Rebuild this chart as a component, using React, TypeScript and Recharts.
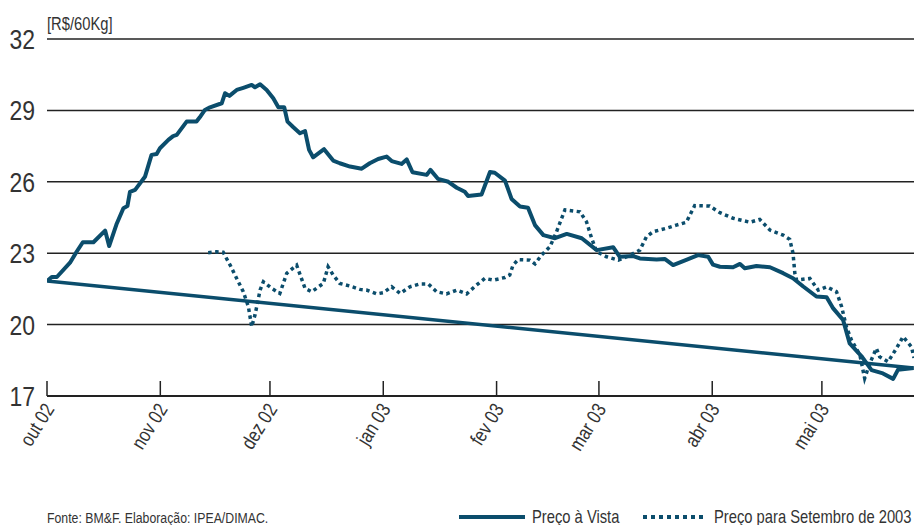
import React from 'react';
import { LineChart, Line, XAxis, YAxis, CartesianGrid } from 'recharts';

// x = dias desde 1 out 2002
const spotDays = [
  0, 1.3, 2.7, 6.3, 8.1, 9.8, 12.7, 15.9, 17.0, 19.1, 20.9, 22.0, 22.7, 24.1, 26.8, 28.6, 30.0, 30.9,
  33.2, 34.5, 35.5, 38.2, 40.9, 41.8, 43.2, 44.6, 47.8, 48.7, 49.9, 51.9, 53.7, 56.0, 56.9, 58.3,
  60.1, 61.9, 63.3, 64.9, 65.8, 67.4, 69.2, 70.6, 71.7, 72.8, 75.8, 78.3, 80.1, 82.9, 86.1, 88.3,
  90.6, 92.9, 94.3, 97.0, 98.4, 100.0, 103.9, 104.9, 107.0, 109.8, 112.1, 114.3, 115.2, 118.9,
  121.2, 122.5, 125.3, 127.1, 129.4, 131.6, 133.5, 135.8, 139.0, 142.2, 146.3, 150.4, 154.9,
  156.7, 160.4, 162.2, 166.8, 169.0, 171.3, 174.9, 178.1, 180.9, 182.2, 184.1, 187.7, 189.6,
  190.9, 194.1, 197.8, 201.4, 204.1, 206.9, 210.5, 213.3, 215.1, 217.8, 219.6, 222.8, 224.6,
  225.6, 228.7, 231.5, 232.8, 237.1,
];
const spotValues = [
  21.83, 22.0, 22.0, 22.6, 23.06, 23.46, 23.46, 23.95, 23.3, 24.25, 24.89, 24.98, 25.58, 25.66, 26.21, 27.13, 27.17, 27.41,
  27.76, 27.92, 27.97, 28.53, 28.53, 28.71, 29.02, 29.13, 29.3, 29.72, 29.61, 29.86, 29.95, 30.07, 29.97, 30.1,
  29.86, 29.51, 29.13, 29.13, 28.53, 28.29, 28.04, 28.13, 27.34, 27.03, 27.37, 26.89, 26.78, 26.64, 26.55, 26.78,
  26.96, 27.06, 26.87, 26.75, 26.94, 26.4, 26.29, 26.5, 26.12, 26.0, 25.75, 25.58, 25.4, 25.47,
  26.41, 26.38, 26.05, 25.28, 24.96, 24.91, 24.18, 23.76, 23.63, 23.81, 23.63, 23.13, 23.25,
  22.85, 22.88, 22.78, 22.74, 22.76, 22.5, 22.72, 22.92, 22.85, 22.52, 22.43, 22.41, 22.55,
  22.37, 22.46, 22.41, 22.16, 21.95, 21.6, 21.18, 21.15, 20.68, 20.19, 19.21, 18.68, 18.3,
  18.09, 17.95, 17.72, 18.1, 18.18,
];

const futDays = [
  44.1, 46.4, 48.2, 50.1, 51.9, 53.7, 55.1, 56.0, 56.9, 58.3, 59.2, 61.5, 63.7, 65.6, 68.3, 70.6,
  72.4, 75.6, 76.9, 78.3, 80.1, 82.9, 85.6, 87.4, 90.2, 92.0, 94.3, 96.6, 99.3, 102.0, 104.3,
  106.6, 109.3, 112.1, 114.8, 117.5, 119.8, 122.1, 125.3, 126.6, 127.5, 128.9, 132.1, 133.5,
  135.3, 137.6, 139.4, 141.7, 145.8, 147.6, 149.0, 150.4, 153.1, 156.3, 158.6, 162.2, 164.0,
  165.8, 169.5, 172.2, 174.9, 177.2, 181.3, 184.1, 187.7, 192.3, 195.0, 197.8, 201.4, 203.2,
  204.1, 204.6, 205.1, 208.7, 211.0, 213.3, 216.0, 217.4, 218.7, 220.1, 222.4, 223.7, 225.1,
  226.9, 227.8, 230.1, 232.4, 234.2, 236.5, 237.2,
];
const futValues = [
  23.02, 23.06, 23.04, 22.5, 21.94, 21.38, 20.75, 19.91, 20.4, 21.45, 21.8, 21.52, 21.31, 22.16, 22.5, 21.52,
  21.38, 21.73, 22.43, 22.08, 21.73, 21.62, 21.48, 21.45, 21.29, 21.34, 21.59, 21.31, 21.59, 21.71, 21.71,
  21.38, 21.29, 21.45, 21.29, 21.66, 21.94, 21.87, 21.98, 22.08, 22.5, 22.73, 22.71, 22.55,
  22.92, 23.27, 23.9, 24.82, 24.74, 24.32, 23.63, 23.06, 22.85, 22.71, 22.85, 23.13, 23.69,
  23.9, 24.05, 24.18, 24.3, 25.0, 24.98, 24.7, 24.47, 24.3, 24.42, 23.97, 23.76, 23.58,
  23.0, 22.16, 21.87, 21.94, 21.45, 21.59, 21.38, 20.75, 19.91, 19.35, 18.72, 17.74, 18.37,
  19.0, 18.65, 18.44, 19.0, 19.49, 19.07, 18.6,
];

const monthTicks = [0, 31, 61, 92, 123, 151, 182, 212];
const monthLabels = ['out 02', 'nov 02', 'dez 02', 'jan 03', 'fev 03', 'mar 03', 'abr 03', 'mai 03'];
const yTicks = [17, 20, 23, 26, 29, 32];

const spotData = spotDays.map((d, i) => ({ d, v: spotValues[i] }));
const futData = futDays.map((d, i) => ({ d, v: futValues[i] }));
// segmento que liga o último ponto ao primeiro
const closeData = [spotData[0], spotData[spotData.length - 1]];

const BLUE = '#0b4d6c';
const TEXT = '#333';
const FONT = '"Liberation Sans", Arial, sans-serif';
const SQUEEZE = 0.82; // fonte original é condensada

// texto condensado na horizontal
const CText = ({ x, y, size, rotate = 0, anchor = 'start', dy, children }: any) => (
  <text
    transform={`translate(${x},${y}) rotate(${rotate}) scale(${SQUEEZE},1)`}
    textAnchor={anchor}
    dy={dy}
    fill={TEXT}
    fontSize={size}
    fontFamily={FONT}
  >
    {children}
  </text>
);

const MonthTick = (props: any) => {
  const { x, y, payload } = props;
  const i = monthTicks.indexOf(payload.value);
  return (
    <g>
      <line x1={x} x2={x} y1={y} y2={y - 15} stroke="#222" strokeWidth={1.5} />
      <CText x={x + 8} y={y + 13} size={20} rotate={-58} anchor="end">
        {monthLabels[i]}
      </CText>
    </g>
  );
};

const ValueTick = (props: any) => {
  const { x, y, payload } = props;
  return (
    <CText x={x} y={y} size={28} anchor="end" dy="0.36em">
      {payload.value}
    </CText>
  );
};

export default function App() {
  return (
    <div style={{ position: 'absolute', left: 0, top: 0, width: 914, height: 525, background: '#fff' }}>
      <LineChart width={914} height={525} margin={{ top: 39, right: 0, left: 0, bottom: 0 }}>
        <CartesianGrid vertical={false} stroke="#222" strokeWidth={1.5} />
        <XAxis
          dataKey="d"
          type="number"
          domain={[0, 237.2]}
          ticks={monthTicks}
          allowDataOverflow
          height={129}
          tickSize={0}
          tickMargin={0}
          tick={<MonthTick />}
          axisLine={{ stroke: '#222', strokeWidth: 2 }}
          tickLine={false}
          interval={0}
        />
        <YAxis
          dataKey="v"
          type="number"
          domain={[17, 32]}
          ticks={yTicks}
          width={47}
          axisLine={false}
          tickLine={false}
          tickSize={0}
          tickMargin={12}
          tick={<ValueTick />}
        />
        <Line data={closeData} dataKey="v" stroke={BLUE} strokeWidth={3.5} dot={false} isAnimationActive={false} legendType="none" />
        <Line data={spotData} dataKey="v" name="Preço à Vista" stroke={BLUE} strokeWidth={4} dot={false} isAnimationActive={false} strokeLinejoin="round" />
        <Line data={futData} dataKey="v" name="Preço para Setembro de 2003" stroke={BLUE} strokeWidth={3.5} strokeDasharray="3.5 3.5" dot={false} isAnimationActive={false} />
      </LineChart>
      <svg width={914} height={525} style={{ position: 'absolute', left: 0, top: 0, pointerEvents: 'none' }}>
        <CText x={47} y={30} size={18}>[R$/60Kg]</CText>
        <CText x={47} y={523} size={15}>Fonte: BM&amp;F. Elaboração: IPEA/DIMAC.</CText>
        <line x1={459} x2={525} y1={517} y2={517} stroke={BLUE} strokeWidth={4} />
        <CText x={532} y={523} size={18}>Preço à Vista</CText>
        <line x1={643} x2={707} y1={517} y2={517} stroke={BLUE} strokeWidth={4} strokeDasharray="4 4" />
        <CText x={714} y={523} size={18}>Preço para Setembro de 2003</CText>
      </svg>
    </div>
  );
}
